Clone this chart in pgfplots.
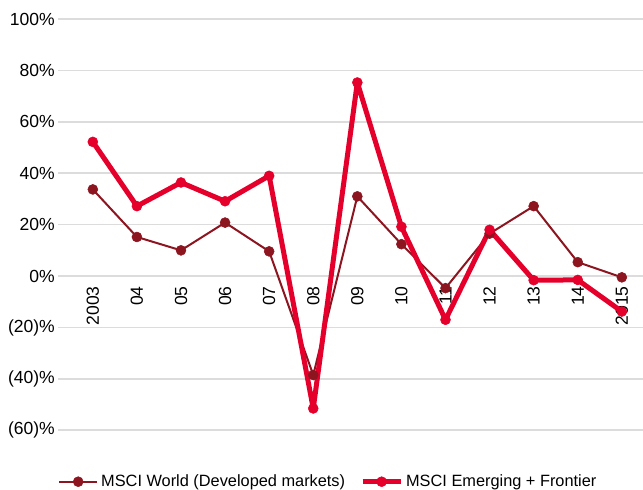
\documentclass[border=0pt]{standalone}
\usepackage{fontspec}
\setmainfont{Liberation Sans}
\usepackage{pgfplots}
\pgfplotsset{compat=1.18}
\definecolor{world}{HTML}{8C1520}
\definecolor{emf}{HTML}{E4002B}
\definecolor{gridc}{HTML}{DCDCDC}
\begin{document}
\begin{tikzpicture}
\begin{axis}[
 scale only axis, width=585bp, height=437bp,
 xmin=-0.79, xmax=12.48, ymin=-70, ymax=100,
 axis x line=middle, axis y line=left,
 axis line style={draw=none},
 major tick length=0pt,
 xtick={0,...,12},
 xticklabels={2003,04,05,06,07,08,09,10,11,12,13,14,2015},
 xticklabel style={rotate=90, anchor=east, inner sep=0pt},
 xticklabel shift={10bp},
 ytick={-60,-40,...,100},
 yticklabels={(60)\%,(40)\%,(20)\%,0\%,20\%,40\%,60\%,80\%,100\%},
 yticklabel style={inner sep=0pt},
 yticklabel shift={3bp},
 ymajorgrids, grid style={gridc, line width=1.6bp},
 tick label style={font=\fontsize{17.6}{21}\selectfont},
 legend style={at={(rel axis cs:0,-0.034)}, anchor=north west, draw=none, fill=none,
   legend columns=2, font=\fontsize{16.4}{19}\selectfont, inner xsep=0pt,
   nodes={inner xsep=3bp},
   /tikz/every even column/.append style={column sep=12bp}},
 legend image code/.code={\draw[#1] (0bp,0bp) -- (38bp,0bp); \draw[#1] plot coordinates {(19bp,0bp)};},
]
\addplot[world, line width=2bp, line join=round, mark=*, mark size=5bp, mark options={line width=0.5bp}] coordinates {(0,33.7)(1,15.2)(2,10)(3,20.8)(4,9.6)(5,-38.5)(6,31)(7,12.4)(8,-4.7)(9,16.5)(10,27.2)(11,5.4)(12,-0.5)};
\addlegendentry{MSCI World (Developed markets)}
\addplot[emf, line width=5bp, line join=round, mark=*, mark size=5bp, mark options={line width=0.5bp}] coordinates {(0,52.2)(1,27.2)(2,36.4)(3,29.1)(4,39)(5,-51.5)(6,75.3)(7,19.2)(8,-17)(9,18)(10,-1.6)(11,-1.5)(12,-13.8)};
\addlegendentry{MSCI Emerging + Frontier}
\coordinate (sw) at (rel axis cs:0,0);
\coordinate (ne) at (rel axis cs:1,1);
\end{axis}
\pgfresetboundingbox
\path ([shift={(-58bp,-34bp)}]sw) rectangle ([shift={(0bp,19bp)}]ne);
\end{tikzpicture}
\end{document}
